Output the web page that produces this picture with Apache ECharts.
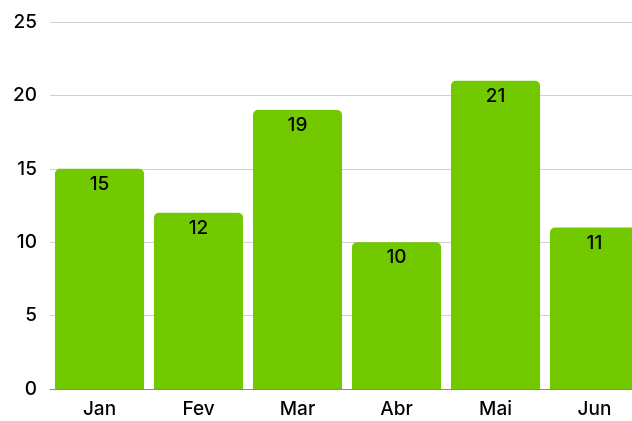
<!DOCTYPE html>
<html lang="pt">
<head>
    <meta charset="UTF-8">
    <title>bar</title>
    <script type="text/javascript" src="https://cdnjs.cloudflare.com/ajax/libs/echarts/6.0.0/echarts.min.js"></script>
    <style>html,body{margin:0;padding:0;background:#fff;overflow:hidden;}</style>
</head>
<body>
    <div id="main" style="width: 644px; height: 421px"></div>
    <script type="text/javascript">
        var months = ['Jan', 'Fev', 'Mar', 'Abr', 'Mai', 'Jun'];
        var values = [15, 12, 19, 10, 21, 11];

        var myChart = echarts.init(document.getElementById('main'));
        var font = 'Inter';

        // the last bar runs off the right edge in the original, so the chart is wider than the window
        var option = {
            animation: false,
            grid: {left: 50, right: 0, top: 22, bottom: 32},
            xAxis: {
                type: 'category',
                data: months,
                axisTick: {show: false},
                axisLine: {lineStyle: {color: '#888', width: 1}},
                axisLabel: {color: '#000', fontSize: 19, fontFamily: font, fontWeight: 500, margin: 11}
            },
            yAxis: {
                type: 'value',
                min: 0,
                max: 25,
                interval: 5,
                axisLabel: {color: '#000', fontSize: 19, fontFamily: font, fontWeight: 500, margin: 13},
                splitLine: {lineStyle: {color: '#d0d0d0', width: 1}}
            },
            series: [{
                type: 'bar',
                data: values,
                barCategoryGap: '10%',
                itemStyle: {color: '#73c900', borderRadius: [5, 5, 0, 0]},
                label: {
                    show: true,
                    position: 'insideTop',
                    distance: 6,
                    color: '#000',
                    fontSize: 19,
                    fontFamily: font,
                    fontWeight: 500
                }
            }]
        };

        myChart.setOption(option);
    </script>
</body>
</html>
